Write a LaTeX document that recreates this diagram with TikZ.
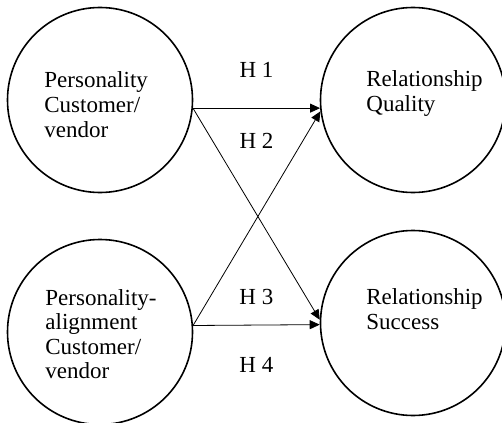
\documentclass[tikz,border=0pt]{standalone}
\usepackage{fontspec}
\setmainfont{Liberation Serif}
\usetikzlibrary{arrows.meta}

\begin{document}
\begin{tikzpicture}[->,>={Triangle[length=10pt,width=9pt]},x=1pt,y=1pt,node distance=313pt,line width=0.8pt]
  \tikzstyle{construct}=[circle,draw,line width=1.6pt,minimum size=185pt,inner sep=0pt]
  \tikzstyle{caption}=[align=left,anchor=base west,inner sep=0pt,font=\fontsize{23}{24.5}\selectfont]
  \tikzstyle{hyp}=[anchor=base,inner sep=0pt,font=\fontsize{23}{24.5}\selectfont]

  \useasboundingbox (0,0) rectangle (502,-422);

  \node[construct] (pc) at (100,-100) {};
  \node[construct] (rq) [right of=pc] {};
  \node[construct] (pa) [below of=pc, node distance=232pt] {};
  \node[construct] (rs) [below of=rq, node distance=223pt] {};

  % base anchor sits on the last line
  \node[caption] (pcText) at ([shift={(-56,-37)}]pc.center) {Personality\\Customer/\\vendor};
  \node[caption] (paText) at ([shift={(-55,-46.5)}]pa.center) {Personality-\\alignment\\Customer/\\vendor};
  \node[caption] (rqText) at ([shift={(-47,-11.5)}]rq.center) {Relationship\\Quality};
  \node[caption] (rsText) at ([shift={(-47,-6)}]rs.center) {Relationship\\Success};

  \path (pc.-5) edge node[hyp,yshift=31pt] {H 1} node[hyp,yshift=-40pt] {H 2} (rq.185)
        (pc.-5) edge (rs.178)
        (pa.4) edge node[hyp,yshift=21pt] {H 3} node[hyp,yshift=-47pt] {H 4} (rs.181)
        (pa.4) edge (rq.187);
\end{tikzpicture}
\end{document}
